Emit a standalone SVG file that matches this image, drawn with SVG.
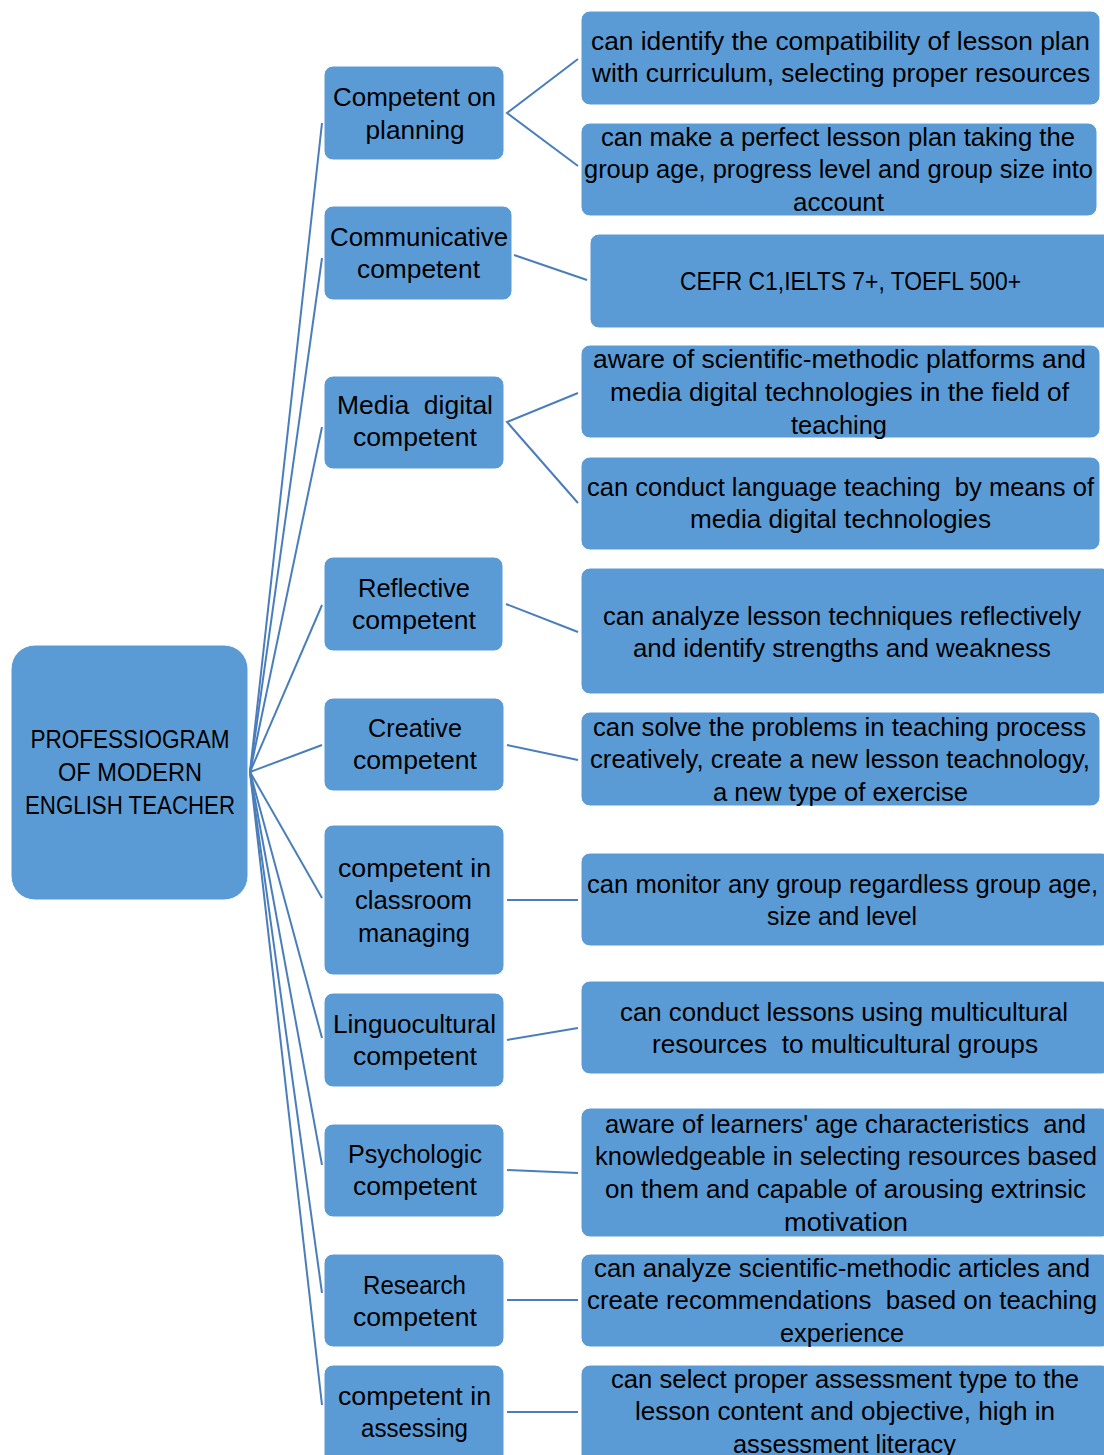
<svg xmlns="http://www.w3.org/2000/svg" width="1104" height="1455" viewBox="0 0 1104 1455">
<style>
.box{fill:#5B9BD5;stroke:#ffffff;stroke-width:1}
.c{stroke:#4A7EBB;stroke-width:2;fill:none}
text{font-family:"Liberation Sans",Arial,sans-serif;font-size:25px;fill:#000;text-anchor:middle}
</style>
<rect width="1104" height="1455" fill="#ffffff"/>
<g id="connectors">
<line class="c" x1="250" y1="772" x2="322" y2="123"/>
<line class="c" x1="250" y1="772" x2="322" y2="258"/>
<line class="c" x1="250" y1="772" x2="322" y2="427"/>
<line class="c" x1="250" y1="772" x2="322" y2="605"/>
<line class="c" x1="250" y1="772" x2="322" y2="745"/>
<line class="c" x1="250" y1="772" x2="322" y2="898"/>
<line class="c" x1="250" y1="772" x2="322" y2="1038"/>
<line class="c" x1="250" y1="772" x2="322" y2="1165"/>
<line class="c" x1="250" y1="772" x2="322" y2="1293"/>
<line class="c" x1="250" y1="772" x2="322" y2="1405"/>
<polyline class="c" points="578,59 507,113 578,166"/>
<line class="c" x1="514" y1="255" x2="587" y2="280"/>
<polyline class="c" points="578,393 507,422 578,503"/>
<line class="c" x1="506" y1="604" x2="578" y2="632"/>
<line class="c" x1="507" y1="745" x2="578" y2="760"/>
<line class="c" x1="507" y1="900" x2="578" y2="900"/>
<line class="c" x1="507" y1="1040" x2="578" y2="1028"/>
<line class="c" x1="507" y1="1170" x2="578" y2="1173"/>
<line class="c" x1="507" y1="1300" x2="578" y2="1300"/>
<line class="c" x1="507" y1="1412" x2="578" y2="1412"/>
</g>
<g id="root">
<rect class="box" x="11" y="645" width="237" height="255" rx="24"/>
<text x="130" y="748" textLength="199" lengthAdjust="spacingAndGlyphs">PROFESSIOGRAM</text>
<text x="130" y="781" textLength="144" lengthAdjust="spacingAndGlyphs">OF MODERN</text>
<text x="130" y="814" textLength="210" lengthAdjust="spacingAndGlyphs">ENGLISH TEACHER</text>
</g>
<g id="m1">
<rect class="box" x="324" y="66" width="180" height="94" rx="9"/>
<text x="414.5" y="106" textLength="163" lengthAdjust="spacingAndGlyphs">Competent on</text>
<text x="415" y="139" textLength="99" lengthAdjust="spacingAndGlyphs">planning</text>
</g>
<g id="m2">
<rect class="box" x="324" y="206" width="188" height="94" rx="9"/>
<text x="419" y="246" textLength="178" lengthAdjust="spacingAndGlyphs">Communicative</text>
<text x="418.5" y="278" textLength="123" lengthAdjust="spacingAndGlyphs">competent</text>
</g>
<g id="m3">
<rect class="box" x="324" y="376" width="180" height="93" rx="9"/>
<text x="415" y="414" textLength="156" lengthAdjust="spacingAndGlyphs" xml:space="preserve">Media  digital</text>
<text x="415" y="446" textLength="124" lengthAdjust="spacingAndGlyphs">competent</text>
</g>
<g id="m4">
<rect class="box" x="324" y="557" width="179" height="94" rx="9"/>
<text x="414" y="597" textLength="112" lengthAdjust="spacingAndGlyphs">Reflective</text>
<text x="414" y="629" textLength="124" lengthAdjust="spacingAndGlyphs">competent</text>
</g>
<g id="m5">
<rect class="box" x="324" y="698" width="180" height="93" rx="9"/>
<text x="415" y="737" textLength="94" lengthAdjust="spacingAndGlyphs">Creative</text>
<text x="415" y="769" textLength="124" lengthAdjust="spacingAndGlyphs">competent</text>
</g>
<g id="m6">
<rect class="box" x="324" y="825" width="180" height="150" rx="9"/>
<text x="414.5" y="877" textLength="153" lengthAdjust="spacingAndGlyphs">competent in</text>
<text x="413.5" y="909" textLength="117" lengthAdjust="spacingAndGlyphs">classroom</text>
<text x="414" y="942" textLength="112" lengthAdjust="spacingAndGlyphs">managing</text>
</g>
<g id="m7">
<rect class="box" x="324" y="993" width="180" height="94" rx="9"/>
<text x="414.5" y="1033" textLength="163" lengthAdjust="spacingAndGlyphs">Linguocultural</text>
<text x="415" y="1065" textLength="124" lengthAdjust="spacingAndGlyphs">competent</text>
</g>
<g id="m8">
<rect class="box" x="324" y="1124" width="180" height="93" rx="9"/>
<text x="415" y="1163" textLength="134" lengthAdjust="spacingAndGlyphs">Psychologic</text>
<text x="415" y="1195" textLength="124" lengthAdjust="spacingAndGlyphs">competent</text>
</g>
<g id="m9">
<rect class="box" x="324" y="1254" width="180" height="93" rx="9"/>
<text x="414.5" y="1294" textLength="103" lengthAdjust="spacingAndGlyphs">Research</text>
<text x="415" y="1326" textLength="124" lengthAdjust="spacingAndGlyphs">competent</text>
</g>
<g id="m10">
<rect class="box" x="324" y="1365" width="180" height="100" rx="9"/>
<text x="414.5" y="1405" textLength="153" lengthAdjust="spacingAndGlyphs">competent in</text>
<text x="414.5" y="1437" textLength="107" lengthAdjust="spacingAndGlyphs">assessing</text>
</g>
<g id="r1">
<rect class="box" x="581" y="11" width="519" height="94" rx="9"/>
<text x="840.5" y="50" textLength="499" lengthAdjust="spacingAndGlyphs">can identify the compatibility of lesson plan</text>
<text x="841" y="82" textLength="498" lengthAdjust="spacingAndGlyphs">with curriculum, selecting proper resources</text>
</g>
<g id="r2">
<rect class="box" x="581" y="123" width="516" height="93" rx="9"/>
<text x="838" y="146" textLength="474" lengthAdjust="spacingAndGlyphs">can make a perfect lesson plan taking the</text>
<text x="838.5" y="178" textLength="509" lengthAdjust="spacingAndGlyphs">group age, progress level and group size into</text>
<text x="838.5" y="211" textLength="91" lengthAdjust="spacingAndGlyphs">account</text>
</g>
<g id="r3">
<rect class="box" x="590" y="234" width="530" height="94" rx="9"/>
<text x="850.5" y="290" textLength="341" lengthAdjust="spacingAndGlyphs">CEFR C1,IELTS 7+, TOEFL 500+</text>
</g>
<g id="r4">
<rect class="box" x="581" y="345" width="519" height="93" rx="9"/>
<text x="839.5" y="368" textLength="493" lengthAdjust="spacingAndGlyphs">aware of scientific-methodic platforms and</text>
<text x="839.5" y="401" textLength="459" lengthAdjust="spacingAndGlyphs">media digital technologies in the field of</text>
<text x="839" y="434" textLength="96" lengthAdjust="spacingAndGlyphs">teaching</text>
</g>
<g id="r5">
<rect class="box" x="581" y="457" width="519" height="93" rx="9"/>
<text x="840.5" y="496" textLength="507" lengthAdjust="spacingAndGlyphs" xml:space="preserve">can conduct language teaching  by means of</text>
<text x="840.5" y="528" textLength="301" lengthAdjust="spacingAndGlyphs">media digital technologies</text>
</g>
<g id="r6">
<rect class="box" x="581" y="568" width="530" height="126" rx="9"/>
<text x="842" y="625" textLength="478" lengthAdjust="spacingAndGlyphs">can analyze lesson techniques reflectively</text>
<text x="842" y="657" textLength="418" lengthAdjust="spacingAndGlyphs">and identify strengths and weakness</text>
</g>
<g id="r7">
<rect class="box" x="581" y="712" width="519" height="94" rx="9"/>
<text x="839.5" y="736" textLength="493" lengthAdjust="spacingAndGlyphs">can solve the problems in teaching process</text>
<text x="840" y="768" textLength="500" lengthAdjust="spacingAndGlyphs">creatively, create a new lesson teachnology,</text>
<text x="840.5" y="801" textLength="255" lengthAdjust="spacingAndGlyphs">a new type of exercise</text>
</g>
<g id="r8">
<rect class="box" x="581" y="853" width="530" height="93" rx="9"/>
<text x="842.5" y="893" textLength="511" lengthAdjust="spacingAndGlyphs">can monitor any group regardless group age,</text>
<text x="842" y="925" textLength="150" lengthAdjust="spacingAndGlyphs">size and level</text>
</g>
<g id="r9">
<rect class="box" x="581" y="981" width="530" height="93" rx="9"/>
<text x="844" y="1021" textLength="448" lengthAdjust="spacingAndGlyphs">can conduct lessons using multicultural</text>
<text x="845" y="1053" textLength="386" lengthAdjust="spacingAndGlyphs" xml:space="preserve">resources  to multicultural groups</text>
</g>
<g id="r10">
<rect class="box" x="581" y="1108" width="530" height="129" rx="9"/>
<text x="845.5" y="1133" textLength="481" lengthAdjust="spacingAndGlyphs" xml:space="preserve">aware of learners' age characteristics  and</text>
<text x="846" y="1165" textLength="502" lengthAdjust="spacingAndGlyphs">knowledgeable in selecting resources based</text>
<text x="845.5" y="1198" textLength="481" lengthAdjust="spacingAndGlyphs">on them and capable of arousing extrinsic</text>
<text x="846" y="1231" textLength="124" lengthAdjust="spacingAndGlyphs">motivation</text>
</g>
<g id="r11">
<rect class="box" x="581" y="1254" width="530" height="93" rx="9"/>
<text x="842" y="1277" textLength="496" lengthAdjust="spacingAndGlyphs">can analyze scientific-methodic articles and</text>
<text x="842" y="1309" textLength="510" lengthAdjust="spacingAndGlyphs" xml:space="preserve">create recommendations  based on teaching</text>
<text x="842" y="1342" textLength="124" lengthAdjust="spacingAndGlyphs">experience</text>
</g>
<g id="r12">
<rect class="box" x="581" y="1365" width="530" height="100" rx="9"/>
<text x="845" y="1388" textLength="468" lengthAdjust="spacingAndGlyphs">can select proper assessment type to the</text>
<text x="845" y="1420" textLength="420" lengthAdjust="spacingAndGlyphs">lesson content and objective, high in</text>
<text x="844.5" y="1453" textLength="223" lengthAdjust="spacingAndGlyphs">assessment literacy</text>
</g>
</svg>
